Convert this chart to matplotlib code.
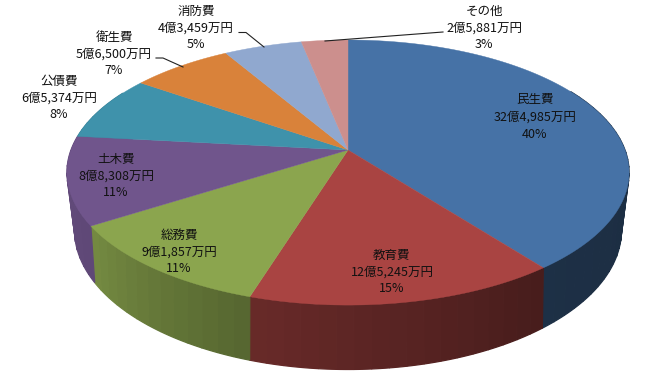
"""歳出内訳の3D風円グラフ。"""

import matplotlib.pyplot as plt
import numpy as np

plt.rcParams["font.family"] = ["Noto Sans CJK JP", "DejaVu Sans"]

CATEGORIES = ["民生費", "教育費", "総務費", "土木費", "公債費", "衛生費", "消防費", "その他"]
AMOUNTS_MAN = [324985, 125245, 91857, 88308, 65374, 56500, 43459, 25881]
PERCENTS = [40, 15, 11, 11, 8, 7, 5, 3]
COLORS = ["#4672a6", "#a94442", "#8ba54e", "#70558c", "#3f92ab", "#d9823a", "#90a8cf", "#cc8f8d"]

# 画面ピクセル座標でのラベル中心
LABEL_POS = [(535, 117), (392, 272), (179, 252), (116, 176), (59, 98), (114, 54), (196, 28), (484, 28)]
LEADERS = [
    [(239, 32.5), (246, 32.5), (264, 47)],
    [(156, 58), (163, 58), (183, 67)],
    [(443, 32), (325, 41)],
]

# 透視投影のパラメータ (上面, 底面)
CX = 348
TOP = dict(a=277, b=128.7, k=0.17, y0=150)
BOTTOM = dict(a=268, b=134, k=0.20, y0=202)

# 側面の明るさ (時計回りの角度に対する係数)
SHADE_ANGLE = [100, 143, 198, 239, 278]
SHADE_VALUE = [0.40, 0.42, 0.62, 0.85, 0.88]


def project(theta, a, b, k, y0):
    u, v = np.sin(theta), np.cos(theta)
    d = 1 + k * v
    return CX + a * u / d, y0 - b * v / d


def shaded(color, factor):
    rgb = np.array(plt.matplotlib.colors.to_rgb(color))
    return tuple(rgb * factor)


def label_text(name, amount, percent):
    oku, man = divmod(amount, 10000)
    return f"{name}\n{oku}億{man:,}万円\n{percent}%"


fig = plt.figure(figsize=(6.61, 3.9), dpi=100)
ax = fig.add_axes([0, 0, 1, 1])
ax.set_xlim(0, 661)
ax.set_ylim(390, 0)
ax.axis("off")

edges = np.concatenate([[0], np.cumsum(AMOUNTS_MAN)]) / sum(AMOUNTS_MAN) * 2 * np.pi

# 側面: 細い帯に分けて明るさを変える
for start, end, color in zip(edges[:-1], edges[1:], COLORS):
    n = max(int(np.degrees(end - start) / 3), 2)
    ts = np.linspace(start, end, n + 1)
    for t0, t1 in zip(ts[:-1], ts[1:]):
        deg = np.degrees((t0 + t1) / 2)
        if deg < 60 or deg > 300:
            continue
        seg = np.linspace(t0, t1, 5)
        x1, y1 = project(seg, **TOP)
        x2, y2 = project(seg[::-1], **BOTTOM)
        c = shaded(color, np.interp(deg, SHADE_ANGLE, SHADE_VALUE))
        ax.fill(np.r_[x1, x2], np.r_[y1, y2], color=c, lw=0.9, zorder=1)

# 上面
for start, end, color in zip(edges[:-1], edges[1:], COLORS):
    ts = np.linspace(start, end, 120)
    x, y = project(ts, **TOP)
    ax.fill(np.r_[CX, x], np.r_[TOP["y0"], y], color=color, lw=0.3, zorder=2)

for name, amount, percent, (lx, ly) in zip(CATEGORIES, AMOUNTS_MAN, PERCENTS, LABEL_POS):
    ax.text(lx, ly, label_text(name, amount, percent), ha="center", va="center",
            fontsize=9, color="#111111", linespacing=1.4, zorder=5)

for pts in LEADERS:
    xs, ys = zip(*pts)
    ax.plot(xs, ys, color="#222222", lw=0.8, zorder=4)

fig.savefig("out.png", dpi=100, facecolor="white")
